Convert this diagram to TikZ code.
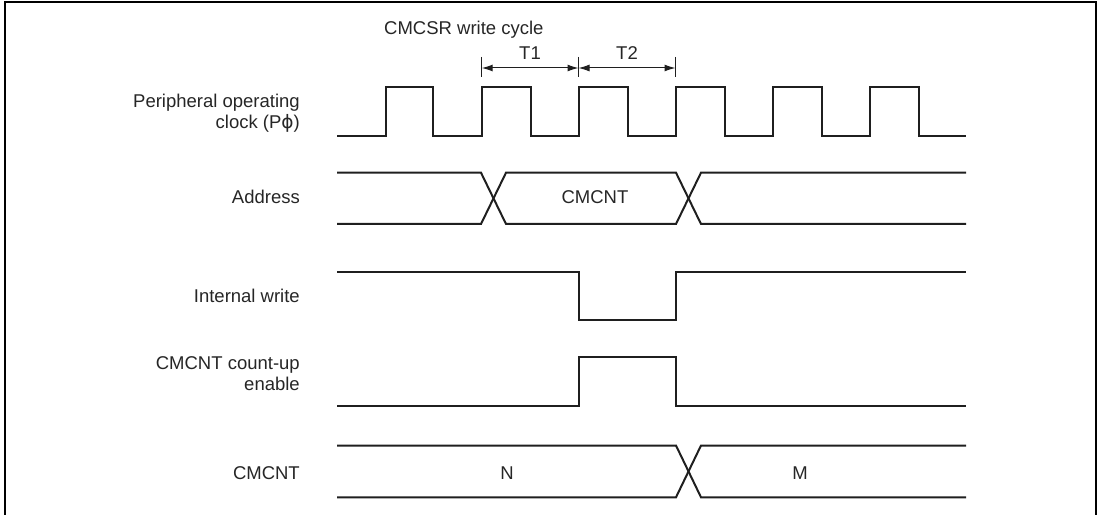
\documentclass[tikz,border=0pt]{standalone}
\usepackage{fontspec}
\setmainfont{Liberation Sans}
\newfontfamily\symfam{DejaVu Sans}
\usetikzlibrary{arrows.meta}
\begin{document}
\begin{tikzpicture}[x=1bp,y=-1bp,
  sig/.style={line width=2bp, draw=black!88, line join=miter},
  dimline/.style={line width=1bp, draw=black!88},
  dimarrow/.style={line width=1bp, draw=black!88, {Latex[length=11bp,width=7bp]}-{Latex[length=11bp,width=7bp]}},
  txt/.style={inner sep=0pt, font=\fontsize{18.5bp}{21.5bp}\selectfont, text=black!85},
  lbl/.style={txt, anchor=base east, align=right},
  val/.style={txt, anchor=base}]
\useasboundingbox (0,0) rectangle (1102,515);
% frame
\draw[line width=2.2bp] (5,530) -- (5,2.3) -- (1096,2.3) -- (1096,530);

% signal labels
\node[lbl] (lclk) at (300,129) {Peripheral operating\\clock (P{\symfam ϕ})};
\node[lbl] (ladr) at (300,203.5) {Address};
\node[lbl] (lwr)  at (300,302.7) {Internal write};
\node[lbl] (lcu)  at (300,390.7) {CMCNT count-up\\enable};
\node[lbl] (lcnt) at (300,479) {CMCNT};

% cycle annotation
\node[txt, anchor=base west] (cyc) at (384,35) {CMCSR write cycle};
\coordinate (ta0) at (481.7,57);
\coordinate (ta1) at (578.5,57);
\coordinate (ta2) at (675.5,57);
\coordinate (tb0) at (481.7,77);
\coordinate (tb1) at (578.5,77);
\coordinate (tb2) at (675.5,77);
\coordinate (a0) at (481.7,68);
\coordinate (a1) at (578.5,68);
\coordinate (a2) at (675.5,68);
\draw[dimline] (ta0) -- (tb0);
\draw[dimline] (ta1) -- (tb1);
\draw[dimline] (ta2) -- (tb2);
\draw[dimarrow] (a0) -- (a1);
\draw[dimarrow] (a1) -- (a2);
\node[val] (t1) at (530,59.3) {T1};
\node[val] (t2) at (627,59.3) {T2};

% clock
\draw[sig] (337,136) -- (385.5,136) -- (385.5,87.5) -- (433,87.5) -- (433,136)
  -- (482,136) -- (482,87.5) -- (530.5,87.5) -- (530.5,136)
  -- (579,136) -- (579,87.5) -- (627.5,87.5) -- (627.5,136)
  -- (676,136) -- (676,87.5) -- (725,87.5) -- (725,136)
  -- (773,136) -- (773,87.5) -- (822,87.5) -- (822,136)
  -- (870,136) -- (870,87.5) -- (918.5,87.5) -- (918.5,136) -- (966,136);

% address bus
\draw[sig] (337,172.7) -- (481,172.7) -- (506,224) -- (676,224) -- (701,172.7) -- (966,172.7);
\draw[sig] (337,224) -- (481,224) -- (506,172.7) -- (676,172.7) -- (701,224) -- (966,224);
\node[val] (vadr) at (595,203.3) {CMCNT};

% internal write
\draw[sig] (337,271.7) -- (579,271.7) -- (579,320) -- (676,320) -- (676,271.7) -- (966,271.7);

% count-up enable
\draw[sig] (337,406) -- (579,406) -- (579,357) -- (676,357) -- (676,406) -- (966,406);

% CMCNT
\draw[sig] (337,445.5) -- (676,445.5) -- (701,497.3) -- (966,497.3);
\draw[sig] (337,497.3) -- (676,497.3) -- (701,445.5) -- (966,445.5);
\node[val] (vn) at (507,479) {N};
\node[val] (vm) at (800,479) {M};
\end{tikzpicture}
\end{document}
